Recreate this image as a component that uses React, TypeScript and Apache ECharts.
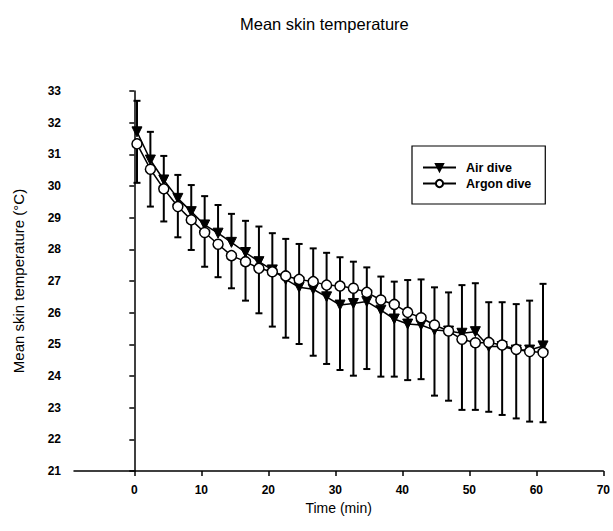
import React, { useEffect, useRef } from "react";
import * as echarts from "echarts";

const timeMin = [0.4, 2.4, 4.4, 6.5, 8.5, 10.5, 12.5, 14.5, 16.6, 18.6, 20.6, 22.6, 24.6, 26.7, 28.7, 30.7, 32.7, 34.7, 36.8, 38.8, 40.8, 42.8, 44.8, 46.9, 48.9, 50.9, 52.9, 54.9, 57.0, 59.0, 61.0];
const airDive = [31.71, 30.82, 30.19, 29.61, 29.19, 28.77, 28.51, 28.22, 27.9, 27.61, 27.35, 27.05, 26.8, 26.74, 26.5, 26.24, 26.29, 26.35, 26.08, 25.8, 25.64, 25.61, 25.45, 25.42, 25.35, 25.4, 24.93, 24.93, 24.82, 24.82, 24.95];
const argonDive = [31.33, 30.53, 29.91, 29.35, 28.93, 28.53, 28.16, 27.8, 27.61, 27.4, 27.29, 27.16, 27.05, 26.98, 26.87, 26.84, 26.77, 26.64, 26.4, 26.26, 26.01, 25.84, 25.61, 25.42, 25.16, 25.05, 25.06, 24.98, 24.84, 24.77, 24.74];
const airUpperBar = [32.69, 31.71, 30.95, 30.35, 30.03, 29.68, 29.4, 29.12, 28.9, 28.72, 28.51, 28.33, 28.17, 28.03, 27.89, 27.75, 27.61, 27.43, 27.14, 26.98, 27.03, 27.05, 26.8, 26.64, 26.87, 26.93, 26.33, 26.33, 26.27, 26.38, 26.91];
const argonLowerBar = [30.1, 29.35, 28.88, 28.38, 27.98, 27.45, 27.12, 26.77, 26.38, 25.98, 25.56, 25.21, 25.01, 24.64, 24.38, 24.19, 24.01, 24.22, 23.98, 23.98, 23.87, 23.9, 23.38, 23.22, 22.93, 22.93, 22.87, 22.77, 22.66, 22.56, 22.54];
const xTickValues = [0, 10, 20, 30, 40, 50, 60, 70];
const seriesNames = ["Air dive", "Argon dive"];

const FONT = "'Liberation Sans', Arial, Helvetica, sans-serif";

export default function App() {
  const ref = useRef<HTMLDivElement>(null);
  useEffect(() => {
    const chart = echarts.init(ref.current as HTMLDivElement, null, { renderer: "svg" });
    const errRender = (params: any, api: any) => {
      const x = api.value(0);
      const p0 = api.coord([x, api.value(1)]);
      const p1 = api.coord([x, api.value(2)]);
      const hw = 3.5;
      return {
        type: "group",
        children: [
          { type: "line", shape: { x1: p0[0], y1: p0[1], x2: p1[0], y2: p1[1] }, style: { stroke: "#000", lineWidth: 2 } },
          { type: "line", shape: { x1: p1[0] - hw, y1: p1[1], x2: p1[0] + hw, y2: p1[1] }, style: { stroke: "#000", lineWidth: 2 } },
        ],
      };
    };
    chart.setOption({
      animation: false,
      backgroundColor: "#fff",
      title: {
        text: "Mean skin temperature",
        left: 235,
        top: 10,
        textStyle: { fontFamily: FONT, fontSize: 16.5, fontWeight: "normal", color: "#000" },
      },
      legend: {
        data: seriesNames,
        orient: "vertical",
        left: 412,
        top: 146,
        padding: [15, 14, 14, 10],
        itemGap: 3,
        itemWidth: 33,
        itemHeight: 9,
        borderColor: "#000",
        borderWidth: 1.2,
        textStyle: { fontFamily: FONT, fontSize: 12.5, fontWeight: "bold", color: "#000", padding: [0, 0, 0, 5] },
      },
      grid: { left: 74, right: 8, top: 91, bottom: 60 },
      xAxis: {
        type: "value",
        min: -9,
        max: 70,
        name: "Time (min)",
        nameLocation: "middle",
        nameGap: 30,
        nameTextStyle: { fontFamily: FONT, fontSize: 14, color: "#000" },
        axisLine: { lineStyle: { color: "#000", width: 1.5 } },
        axisTick: { customValues: xTickValues, length: 5, lineStyle: { color: "#000", width: 1.5 } },
        axisLabel: { customValues: xTickValues, margin: 13, fontFamily: FONT, fontSize: 12, fontWeight: "bold", color: "#000" },
        splitLine: { show: false },
      },
      yAxis: {
        type: "value",
        min: 21,
        max: 33,
        interval: 1,
        name: "Mean skin temperature (°C)",
        nameLocation: "middle",
        nameGap: 48,
        nameTextStyle: { fontFamily: FONT, fontSize: 15, color: "#000" },
        axisLine: { show: true, lineStyle: { color: "#000", width: 1.5 } },
        axisTick: { show: true, length: 5, lineStyle: { color: "#000", width: 1.5 } },
        axisLabel: { margin: 13, fontFamily: FONT, fontSize: 12, fontWeight: "bold", color: "#000" },
        splitLine: { show: false },
      },
      series: [
        {
          name: "Air SD",
          type: "custom",
          renderItem: errRender,
          data: timeMin.map((t, i) => [t, airDive[i], airUpperBar[i]]),
          encode: { x: 0, y: [1, 2] },
          z: 1,
          silent: true,
        },
        {
          name: "Argon SD",
          type: "custom",
          renderItem: errRender,
          data: timeMin.map((t, i) => [t, argonDive[i], argonLowerBar[i]]),
          encode: { x: 0, y: [1, 2] },
          z: 1,
          silent: true,
        },
        {
          name: seriesNames[0],
          type: "line",
          data: timeMin.map((t, i) => [t, airDive[i]]),
          symbol: "triangle",
          symbolRotate: 180,
          symbolSize: 10,
          lineStyle: { color: "#000", width: 1.5 },
          itemStyle: { color: "#000", borderColor: "#000", borderWidth: 1 },
          z: 2,
        },
        {
          name: seriesNames[1],
          type: "line",
          data: timeMin.map((t, i) => [t, argonDive[i]]),
          symbol: "circle",
          symbolSize: 10,
          lineStyle: { color: "#000", width: 1.5 },
          itemStyle: { color: "#fff", borderColor: "#000", borderWidth: 1.5 },
          z: 3,
        },
      ],
    });
    return () => chart.dispose();
  }, []);
  return <div ref={ref} style={{ position: "fixed", left: 0, top: 0, width: 613, height: 531 }} />;
}
